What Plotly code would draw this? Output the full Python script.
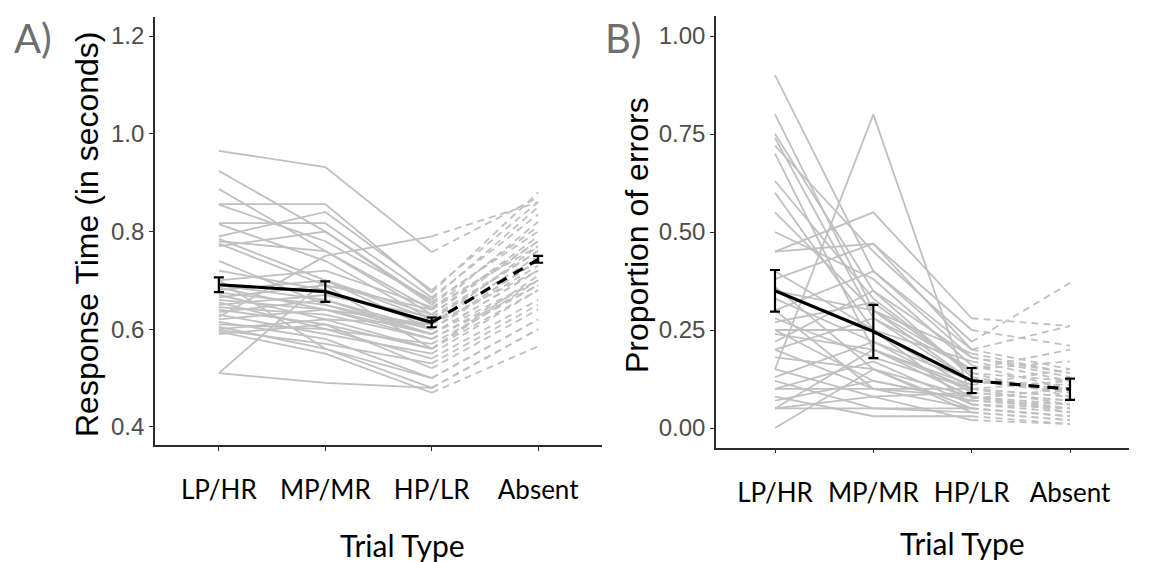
import plotly.graph_objects as go

# Trial-type categories shared by both panels
trial_types = ["LP/HR", "MP/MR", "HP/LR", "Absent"]

# Panel A: per-participant mean response time (s) for each trial type
rt_lp = [0.965, 0.924, 0.887, 0.856, 0.855, 0.817, 0.815, 0.790, 0.785, 0.780,
         0.775, 0.770, 0.720, 0.700, 0.690, 0.685, 0.680, 0.675, 0.670, 0.665,
         0.660, 0.655, 0.650, 0.645, 0.640, 0.635, 0.630, 0.625, 0.620, 0.615,
         0.610, 0.605, 0.600, 0.598, 0.595, 0.590, 0.510, 0.510, 0.700, 0.740]
rt_mp = [0.932, 0.800, 0.760, 0.856, 0.780, 0.817, 0.740, 0.840, 0.700, 0.760,
         0.690, 0.800, 0.680, 0.720, 0.660, 0.640, 0.700, 0.650, 0.620, 0.690,
         0.640, 0.600, 0.670, 0.630, 0.610, 0.660, 0.590, 0.750, 0.640, 0.580,
         0.600, 0.560, 0.620, 0.570, 0.550, 0.610, 0.490, 0.700, 0.560, 0.650]
rt_hp = [0.758, 0.655, 0.640, 0.675, 0.660, 0.665, 0.620, 0.680, 0.600, 0.630,
         0.560, 0.650, 0.610, 0.645, 0.590, 0.580, 0.620, 0.600, 0.560, 0.640,
         0.610, 0.540, 0.625, 0.580, 0.520, 0.600, 0.550, 0.790, 0.590, 0.500,
         0.570, 0.480, 0.610, 0.530, 0.470, 0.560, 0.480, 0.630, 0.500, 0.590]
rt_abs = [0.870, 0.800, 0.820, 0.880, 0.850, 0.835, 0.760, 0.860, 0.740, 0.790,
          0.700, 0.810, 0.720, 0.770, 0.720, 0.690, 0.760, 0.730, 0.680, 0.780,
          0.750, 0.660, 0.760, 0.700, 0.640, 0.740, 0.680, 0.860, 0.700, 0.620,
          0.690, 0.600, 0.770, 0.650, 0.565, 0.710, 0.600, 0.780, 0.620, 0.720]

# Panel A: group mean and standard error
rt_mean = [0.691, 0.677, 0.614, 0.743]
rt_se = [0.015, 0.021, 0.010, 0.007]

# Panel B: per-participant proportion of errors for each trial type
err_lp = [0.90, 0.80, 0.75, 0.74, 0.72, 0.70, 0.63, 0.50, 0.45, 0.45,
          0.40, 0.38, 0.36, 0.35, 0.33, 0.30, 0.30, 0.28, 0.27, 0.25,
          0.25, 0.24, 0.22, 0.20, 0.20, 0.18, 0.15, 0.15, 0.13, 0.12,
          0.10, 0.10, 0.08, 0.07, 0.05, 0.05, 0.05, 0.00, 0.60, 0.55]
err_mp = [0.40, 0.30, 0.35, 0.28, 0.45, 0.20, 0.33, 0.38, 0.55, 0.47,
          0.25, 0.47, 0.15, 0.30, 0.22, 0.40, 0.10, 0.18, 0.32, 0.25,
          0.12, 0.20, 0.35, 0.10, 0.28, 0.15, 0.80, 0.08, 0.22, 0.05,
          0.10, 0.17, 0.03, 0.12, 0.05, 0.20, 0.08, 0.15, 0.25, 0.30]
err_hp = [0.20, 0.15, 0.18, 0.12, 0.22, 0.10, 0.14, 0.16, 0.28, 0.20,
          0.10, 0.25, 0.08, 0.12, 0.09, 0.18, 0.05, 0.10, 0.14, 0.06,
          0.07, 0.11, 0.13, 0.08, 0.15, 0.04, 0.075, 0.09, 0.12, 0.05,
          0.10, 0.06, 0.03, 0.07, 0.04, 0.08, 0.02, 0.05, 0.17, 0.19]
err_abs = [0.26, 0.20, 0.14, 0.09, 0.37, 0.06, 0.12, 0.10, 0.26, 0.15,
           0.08, 0.21, 0.05, 0.10, 0.07, 0.13, 0.03, 0.12, 0.08, 0.04,
           0.05, 0.15, 0.09, 0.06, 0.17, 0.02, 0.10, 0.07, 0.11, 0.03,
           0.08, 0.05, 0.01, 0.06, 0.02, 0.04, 0.01, 0.03, 0.12, 0.14]

# Panel B: group mean and standard error
err_mean = [0.350, 0.246, 0.121, 0.099]
err_se = [0.053, 0.068, 0.032, 0.027]

W, H = 1150, 562
GRAY = "#c0c0c0"


def px_x(x):
    return x / W


def px_y(y):
    return 1 - y / H


def participant_paths(lp, mp, hp, ab):
    """Solid LP->MP->HP paths and dashed HP->Absent paths, separated by gaps."""
    sx, sy, dx, dy = [], [], [], []
    for a, b, c, d in zip(lp, mp, hp, ab):
        sx += trial_types[:3] + [None]
        sy += [a, b, c, None]
        dx += trial_types[2:] + [None]
        dy += [c, d, None]
    return sx, sy, dx, dy


fig = go.Figure()


def add_panel(xa, ya, lp, mp, hp, ab, mean, se):
    sx, sy, dx, dy = participant_paths(lp, mp, hp, ab)
    fig.add_trace(go.Scatter(x=sx, y=sy, mode="lines", xaxis=xa, yaxis=ya,
                             line=dict(color=GRAY, width=1.8),
                             connectgaps=False, hoverinfo="skip"))
    fig.add_trace(go.Scatter(x=dx, y=dy, mode="lines", xaxis=xa, yaxis=ya,
                             line=dict(color=GRAY, width=1.8, dash="7px,5px"),
                             connectgaps=False, hoverinfo="skip"))
    # mean line: solid over the three present conditions, dashed to Absent
    fig.add_trace(go.Scatter(x=trial_types[:3], y=mean[:3], mode="lines",
                             xaxis=xa, yaxis=ya,
                             line=dict(color="black", width=3.2)))
    fig.add_trace(go.Scatter(x=trial_types[2:], y=mean[2:], mode="lines",
                             xaxis=xa, yaxis=ya,
                             line=dict(color="black", width=3.2, dash="11px,8px")))
    fig.add_trace(go.Scatter(x=trial_types, y=mean, mode="markers",
                             xaxis=xa, yaxis=ya,
                             marker=dict(size=1, color="black", opacity=0),
                             error_y=dict(type="data", array=se, visible=True,
                                          color="black", thickness=2.2, width=5)))


add_panel("x", "y", rt_lp, rt_mp, rt_hp, rt_abs, rt_mean, rt_se)
add_panel("x2", "y2", err_lp, err_mp, err_hp, err_abs, err_mean, err_se)

axis_common = dict(showline=True, linecolor="#2b2b2b", linewidth=1.6,
                   ticks="outside", ticklen=4, tickwidth=1.4, tickcolor="#2b2b2b",
                   showgrid=False, zeroline=False)

xtick_font = dict(family="Lato, 'Open Sans', sans-serif", size=26, color="black")
ytick_font = dict(family="'Liberation Sans', Arial, sans-serif", size=24, color="#4d4d4d")

fig.update_layout(
    width=W, height=H,
    margin=dict(l=0, r=0, t=0, b=0),
    paper_bgcolor="white", plot_bgcolor="white",
    showlegend=False,
    xaxis=dict(axis_common, domain=[px_x(155), px_x(602)], type="category",
               categoryorder="array", categoryarray=trial_types,
               range=[-0.6, 3.6], tickfont=xtick_font, ticklabelstandoff=17,
               anchor="y"),
    yaxis=dict(axis_common, domain=[px_y(445), px_y(17)], range=[0.363, 1.239],
               tickvals=[0.4, 0.6, 0.8, 1.0, 1.2], tickformat=".1f",
               tickfont=ytick_font, anchor="x"),
    xaxis2=dict(axis_common, domain=[px_x(716), px_x(1129)], type="category",
                categoryorder="array", categoryarray=trial_types,
                range=[-0.6, 3.6], tickfont=xtick_font, ticklabelstandoff=17,
                anchor="y2"),
    yaxis2=dict(axis_common, domain=[px_y(447.6), px_y(16.4)], range=[-0.05, 1.05],
                tickvals=[0.0, 0.25, 0.5, 0.75, 1.0], tickformat=".2f",
                tickfont=ytick_font, anchor="x2"),
)

title_font = dict(family="'Liberation Sans', Arial, sans-serif", size=32, color="black")
xtitle_font = dict(family="Lato, 'Open Sans', sans-serif", size=30, color="black")
panel_font = dict(family="Lato, 'Open Sans', sans-serif", size=40, color="#6e6e6e")

annotations = [
    dict(text="Response Time (in seconds)", x=px_x(87), y=px_y(234), textangle=-90,
         font=title_font),
    dict(text="Proportion of errors", x=px_x(637), y=px_y(235), textangle=-90,
         font=title_font),
    dict(text="Trial Type", x=px_x(402), y=px_y(545), font=xtitle_font),
    dict(text="Trial Type", x=px_x(962), y=px_y(543), font=xtitle_font),
    dict(text="A)", x=px_x(33), y=px_y(38), font=panel_font),
    dict(text="B)", x=px_x(623), y=px_y(38), font=panel_font),
]
for a in annotations:
    a.update(xref="paper", yref="paper", showarrow=False,
             xanchor="center", yanchor="middle")
fig.update_layout(annotations=annotations)

fig.write_html("out.html")
